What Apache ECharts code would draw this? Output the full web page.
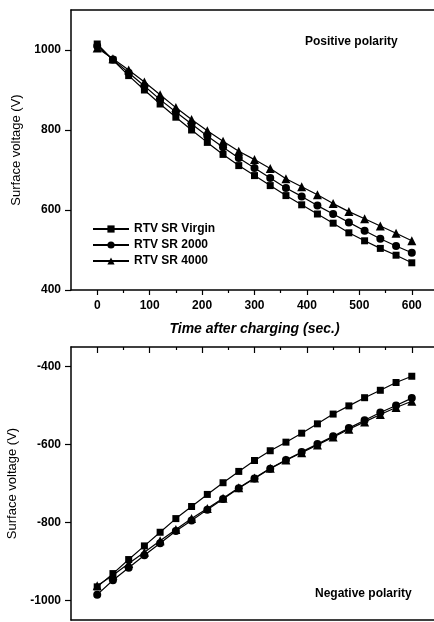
<!DOCTYPE html>
<html>
<head>
<meta charset="utf-8">
<script src="https://cdn.jsdelivr.net/npm/echarts@6/dist/echarts.min.js"></script>
<style>
  html, body { margin: 0; padding: 0; background: #fff; }
  #chart { width: 434px; height: 622px; }
</style>
</head>
<body>
<div id="chart"></div>
<script>
var chartDom = document.getElementById('chart');
var myChart = echarts.init(chartDom);

// time after charging (sec.)
var times = [0, 30, 60, 90, 120, 150, 180, 210, 240, 270, 300, 330, 360, 390, 420, 450, 480, 510, 540, 570, 600];
var names = ['RTV SR Virgin', 'RTV SR 2000', 'RTV SR 4000'];

// positive polarity
var posVirgin = [1015, 975, 936, 900, 865, 832, 800, 769, 739, 711, 686, 661, 636, 613, 590, 567, 543, 523, 504, 487, 468];
var pos2000 = [1010, 976, 943, 910, 876, 845, 815, 785, 757, 730, 705, 680, 655, 634, 611, 590, 569, 548, 528, 510, 493];
var pos4000 = [1005, 978, 950, 920, 888, 856, 826, 798, 772, 747, 726, 704, 678, 658, 638, 616, 596, 578, 560, 542, 523];

// negative polarity
var negVirgin = [-965, -931, -895, -860, -825, -790, -759, -728, -698, -669, -641, -616, -594, -571, -547, -522, -501, -480, -461, -441, -425];
var neg2000 = [-985, -948, -916, -884, -853, -822, -795, -767, -740, -712, -687, -662, -640, -619, -599, -579, -558, -538, -518, -500, -481];
var neg4000 = [-962, -935, -905, -876, -847, -818, -790, -764, -738, -711, -686, -661, -640, -621, -601, -581, -561, -542, -523, -505, -489];

var xMajor = [0, 100, 200, 300, 400, 500, 600];
var xMinor = [50, 150, 250, 350, 450, 550];
var posMajor = [400, 600, 800, 1000];
var posMinor = [500, 700, 900];
var negMajor = [-1000, -800, -600, -400];
var negMinor = [-900, -700, -500];

var font = 'Liberation Sans, Arial, sans-serif';
var symbols = ['rect', 'circle', 'triangle'];
var sizes = [7, 8, 9];

function pairs(ys) {
  return times.map(function (t, i) { return [t, ys[i]]; });
}

function plain(v) {
  return String(v);
}

function xAxisDef(gridIndex, o) {
  var ax = {
    type: 'value',
    gridIndex: gridIndex,
    min: -50,
    max: 650,
    position: o.position || 'bottom',
    splitLine: { show: false },
    axisLine: { show: o.line !== false, onZero: false, lineStyle: { color: '#000', width: 1.5 } },
    axisTick: {
      show: o.len > 0,
      inside: !!o.inside,
      length: o.len,
      customValues: o.ticks,
      lineStyle: { color: '#000', width: 1.2 }
    },
    axisLabel: {
      show: !!o.labels,
      customValues: o.ticks,
      formatter: plain,
      margin: 10,
      color: '#000',
      fontFamily: font,
      fontWeight: 'bold',
      fontSize: 12
    }
  };
  if (o.name) {
    ax.name = o.name;
    ax.nameLocation = 'middle';
    ax.nameGap = 32;
    ax.nameTextStyle = { color: '#000', fontFamily: font, fontStyle: 'italic', fontWeight: 'bold', fontSize: 14 };
  }
  return ax;
}

function yAxisDef(gridIndex, o) {
  var ax = {
    type: 'value',
    gridIndex: gridIndex,
    min: o.min,
    max: o.max,
    splitLine: { show: false },
    axisLine: { show: o.line !== false, onZero: false, lineStyle: { color: '#000', width: 1.5 } },
    axisTick: {
      show: true,
      length: o.len,
      customValues: o.ticks,
      lineStyle: { color: '#000', width: 1.2 }
    },
    axisLabel: {
      show: !!o.labels,
      customValues: o.ticks,
      formatter: plain,
      margin: 10,
      color: '#000',
      fontFamily: font,
      fontWeight: 'bold',
      fontSize: 12
    }
  };
  if (o.name) {
    ax.name = o.name;
    ax.nameLocation = 'middle';
    ax.nameGap = 44;
    ax.nameTextStyle = { color: '#000', fontFamily: font, fontSize: 13 };
  }
  return ax;
}

function lineSeries(k, ys, xi, yi) {
  return {
    name: names[k],
    type: 'line',
    xAxisIndex: xi,
    yAxisIndex: yi,
    data: pairs(ys),
    symbol: symbols[k],
    symbolSize: sizes[k],
    showAllSymbol: true,
    lineStyle: { color: '#000', width: 1.2 },
    itemStyle: { color: '#000' },
    z: 3 + k,
    animation: false
  };
}

var option = {
  animation: false,
  backgroundColor: '#fff',
  grid: [
    { left: 71, top: 10, width: 367, height: 280, show: false, outerBoundsMode: 'none', containLabel: false },
    { left: 71, top: 347, width: 367, height: 273, show: false, outerBoundsMode: 'none', containLabel: false }
  ],
  xAxis: [
    xAxisDef(0, { ticks: xMajor, len: 5, labels: true, name: 'Time after charging (sec.)' }),
    xAxisDef(0, { ticks: xMinor, len: 3, line: false }),
    xAxisDef(1, { ticks: xMajor, len: 0 }),
    xAxisDef(1, { ticks: xMajor, len: 6, inside: true, position: 'top' }),
    xAxisDef(1, { ticks: xMinor, len: 3, inside: true, position: 'top', line: false }),
    xAxisDef(0, { ticks: xMajor, len: 0, position: 'top' })
  ],
  yAxis: [
    yAxisDef(0, { min: 400, max: 1100, ticks: posMajor, len: 6, labels: true, name: 'Surface voltage (V)' }),
    yAxisDef(0, { min: 400, max: 1100, ticks: posMinor, len: 3, line: false }),
    yAxisDef(1, { min: -1050, max: -350, ticks: negMajor, len: 6, labels: true, name: 'Surface voltage (V)' }),
    yAxisDef(1, { min: -1050, max: -350, ticks: negMinor, len: 3, line: false })
  ],
  legend: {
    data: names,
    orient: 'vertical',
    left: 87,
    top: 218,
    itemWidth: 36,
    itemHeight: 9,
    itemGap: 4,
    selectedMode: false,
    textStyle: { color: '#000', fontFamily: font, fontWeight: 'bold', fontSize: 12 }
  },
  graphic: [
    {
      type: 'text', left: 305, top: 36,
      style: { text: 'Positive polarity', fill: '#000', font: 'bold 12px ' + font }
    },
    {
      type: 'text', left: 315, top: 588,
      style: { text: 'Negative polarity', fill: '#000', font: 'bold 12px ' + font }
    }
  ],
  series: [
    lineSeries(0, posVirgin, 0, 0),
    lineSeries(1, pos2000, 0, 0),
    lineSeries(2, pos4000, 0, 0),
    lineSeries(0, negVirgin, 2, 2),
    lineSeries(1, neg2000, 2, 2),
    lineSeries(2, neg4000, 2, 2)
  ]
};

myChart.setOption(option);
window.addEventListener('resize', function () { myChart.resize(); });
</script>
</body>
</html>
